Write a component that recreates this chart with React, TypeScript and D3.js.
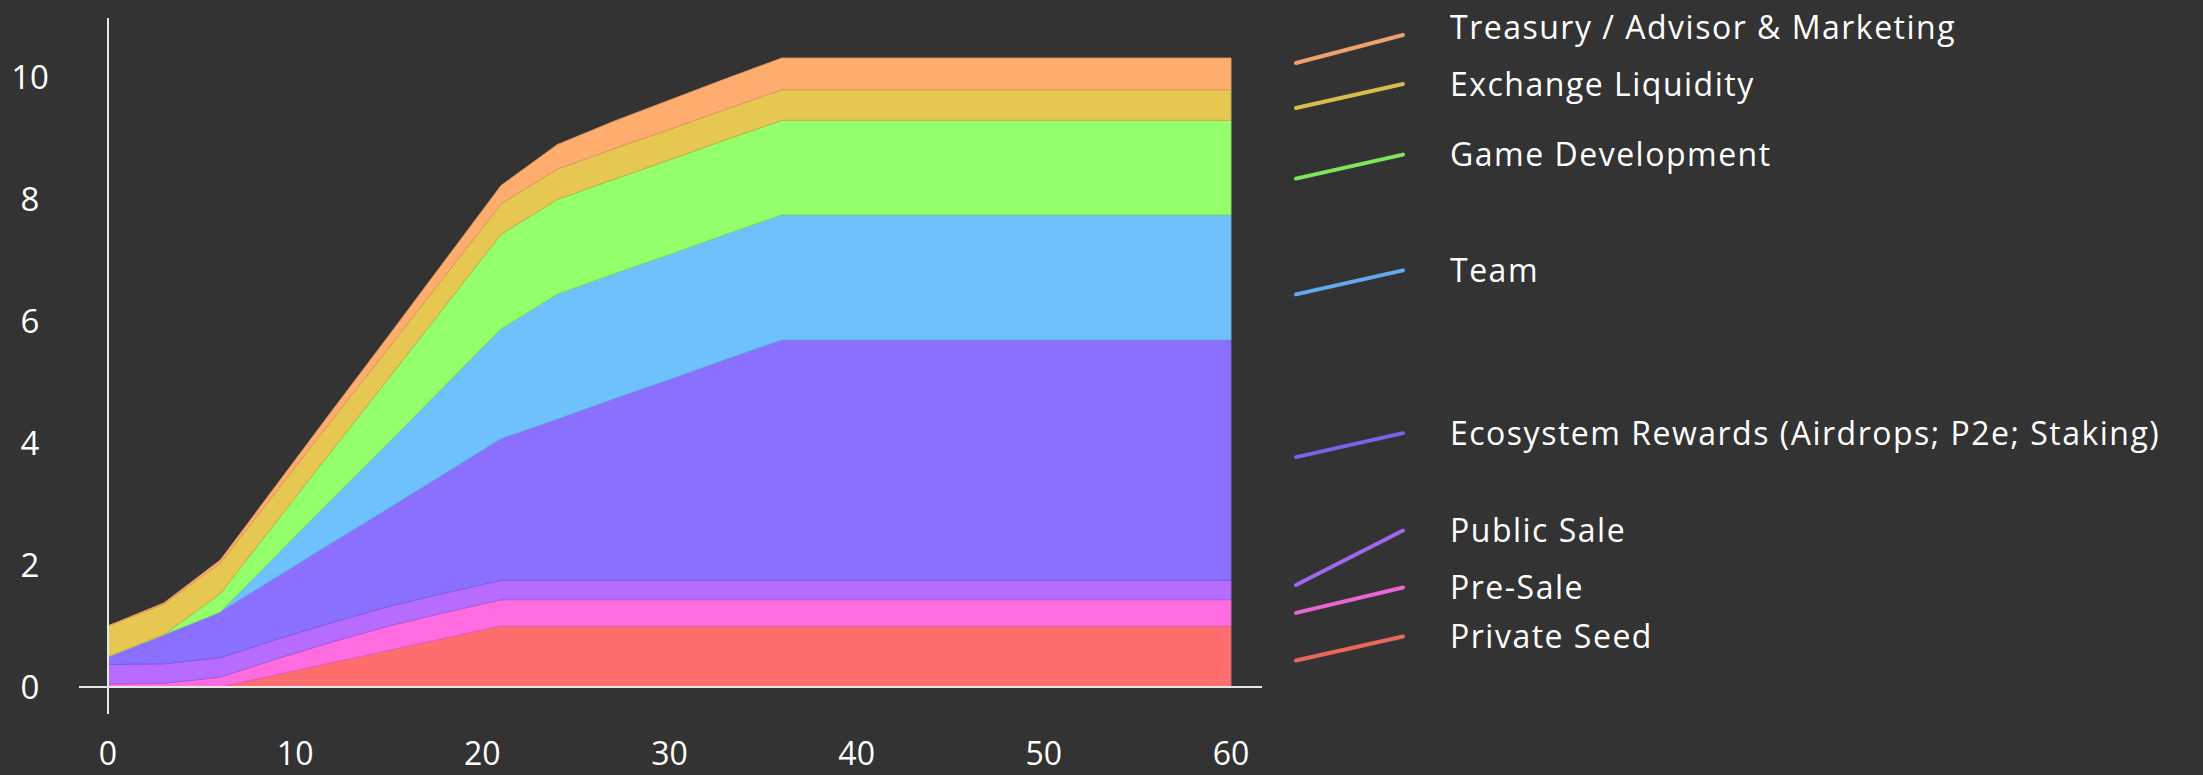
import React, { useEffect, useRef } from "react";
import * as d3 from "d3";

// months since TGE
const months = [0, 3, 6, 9, 12, 15, 18, 21, 24, 27, 30, 33, 36, 60];

// unlocked amounts per allocation (bottom of the stack first)
const privateSeed = [0, 0, 0, 0.2, 0.4, 0.6, 0.8, 1.0, 1.0, 1.0, 1.0, 1.0, 1.0, 1.0];
const preSale = [0.05, 0.06, 0.16, 0.26, 0.34, 0.4, 0.42, 0.43, 0.43, 0.43, 0.43, 0.43, 0.43, 0.43];
const publicSale = [0.32, 0.32, 0.32, 0.32, 0.32, 0.32, 0.32, 0.32, 0.32, 0.32, 0.32, 0.32, 0.32, 0.32];
const ecosystem = [0.13, 0.48, 0.75, 1.02, 1.31, 1.61, 1.96, 2.32, 2.64, 2.97, 3.29, 3.62, 3.94, 3.94];
const team = [0, 0, 0, 0.36, 0.72, 1.08, 1.44, 1.8, 2.05, 2.05, 2.05, 2.05, 2.05, 2.05];
const gameDev = [0, 0, 0.3, 0.55, 0.8, 1.05, 1.3, 1.55, 1.55, 1.55, 1.55, 1.55, 1.55, 1.55];
const exchange = [0.5, 0.5, 0.5, 0.5, 0.5, 0.5, 0.5, 0.5, 0.5, 0.5, 0.5, 0.5, 0.5, 0.5];
const treasury = [0, 0.02, 0.05, 0.1, 0.15, 0.2, 0.25, 0.3, 0.4, 0.45, 0.48, 0.5, 0.52, 0.52];

const seriesNames = [
  "Private Seed",
  "Pre-Sale",
  "Public Sale",
  "Ecosystem Rewards (Airdrops; P2e; Staking)",
  "Team",
  "Game Development",
  "Exchange Liquidity",
  "Treasury / Advisor & Marketing",
];
const seriesValues = [privateSeed, preSale, publicSale, ecosystem, team, gameDev, exchange, treasury];

const fills = ["#ff6e6e", "#ff6ce0", "#b86bff", "#8b6fff", "#6ec1fc", "#92ff6b", "#e6c752", "#ffad6e"];
const legendColors = ["#e8685e", "#e865d2", "#a066ec", "#7b62ea", "#62aaf0", "#7fe65c", "#d6bc4c", "#eea06e"];
// small hand nudges (px) so the leaders sit where the original ones do
const legendNudge = [4, 0, -5, -3, 17, 11, 3, -11];
const legendLift = [0, 0, 8, 0, 0, 0, 0, 4];

const xTicks = [0, 10, 20, 30, 40, 50, 60];
const yTicks = [0, 2, 4, 6, 8, 10];

const W = 2203;
const H = 775;
const FONT = "'Open Sans', Lato, sans-serif";

const App = () => {
  const svgRef = useRef(null);

  useEffect(() => {
    const svg = d3.select(svgRef.current);
    svg.selectAll("*").remove();

    const x = d3.scaleLinear().domain([0, 60]).range([108, 1231]);
    const y = d3.scaleLinear().domain([0, 11]).range([687, 16]);

    const table = months.map((m, i) => {
      const row: any = { month: m };
      seriesNames.forEach((name, k) => (row[name] = seriesValues[k][i]));
      return row;
    });
    const stacked = d3.stack().keys(seriesNames)(table);

    const area = d3
      .area()
      .x((d: any) => x(d.data.month))
      .y0((d: any) => y(d[0]))
      .y1((d: any) => y(d[1]));

    svg
      .append("g")
      .selectAll("path")
      .data(stacked)
      .join("path")
      .attr("d", area as any)
      .attr("fill", (d, i) => fills[i])
      .attr("stroke", (d, i) => d3.color(fills[i]).darker(0.35).formatHex())
      .attr("stroke-width", 1)
      .attr("stroke-linejoin", "round");

    // axes: plain lines that run past each other
    svg
      .append("line")
      .attr("x1", x(0) - 29)
      .attr("x2", x(60) + 31)
      .attr("y1", y(0))
      .attr("y2", y(0))
      .attr("stroke", "#e6e6e6")
      .attr("stroke-width", 2);
    svg
      .append("line")
      .attr("x1", x(0))
      .attr("x2", x(0))
      .attr("y1", y(11) + 2)
      .attr("y2", y(0) + 27)
      .attr("stroke", "#e6e6e6")
      .attr("stroke-width", 2);

    svg
      .append("g")
      .selectAll("text")
      .data(xTicks)
      .join("text")
      .attr("x", (d) => x(d))
      .attr("y", 753)
      .attr("dy", "0.36em")
      .attr("text-anchor", "middle")
      .attr("fill", "#ffffff")
      .attr("font-family", FONT)
      .attr("font-weight", 500)
      .attr("font-size", 32)
      .text((d) => d);

    svg
      .append("g")
      .selectAll("text")
      .data(yTicks)
      .join("text")
      .attr("x", 30)
      .attr("y", (d) => y(d))
      .attr("dy", "0.36em")
      .attr("text-anchor", "middle")
      .attr("fill", "#ffffff")
      .attr("font-family", FONT)
      .attr("font-weight", 500)
      .attr("font-size", 33)
      .text((d) => d);

    // legend: slanted leader from band middle to a spaced-out label
    const last = months.length - 1;
    const anchors = stacked.map((s, i) => y((s[last][0] + s[last][1]) / 2) + legendNudge[i]);
    const labelY = anchors.map((a) => a - 24);
    for (let i = 1; i < labelY.length; i++) {
      labelY[i] = Math.min(labelY[i], labelY[i - 1] - 49);
    }
    const lineEnd = labelY.map((v, i) => v - legendLift[i] * (i === 2 ? 1 : 0));
    const textY = labelY.map((v, i) => v - legendLift[i] * (i === 2 ? 1 : 2));

    const legend = svg.append("g");
    legend
      .selectAll("line")
      .data(seriesNames)
      .join("line")
      .attr("x1", 1296)
      .attr("x2", 1403)
      .attr("y1", (d, i) => anchors[i])
      .attr("y2", (d, i) => lineEnd[i])
      .attr("stroke", (d, i) => legendColors[i])
      .attr("stroke-width", 4)
      .attr("stroke-linecap", "round");
    legend
      .selectAll("text")
      .data(seriesNames)
      .join("text")
      .attr("x", 1450)
      .attr("y", (d, i) => textY[i])
      .attr("dy", "0.36em")
      .attr("fill", "#ffffff")
      .attr("font-family", FONT)
      .attr("font-weight", 500)
      .attr("font-size", 32)
      .attr("letter-spacing", 1.5)
      .text((d) => d);
  }, []);

  return (
    <>
      <style>{`body{margin:0;background:#333333;}`}</style>
      <svg ref={svgRef} width={W} height={H} style={{ display: "block", background: "#333333" }}></svg>
    </>
  );
};

export default App;
